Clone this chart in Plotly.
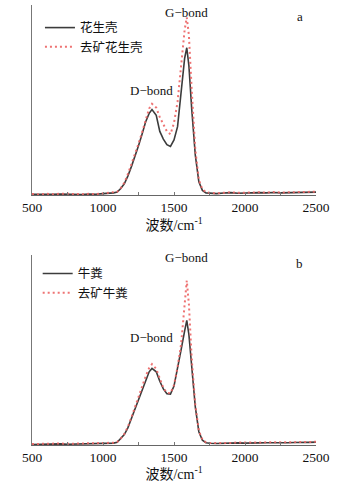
import plotly.graph_objects as go

WAVENUMBER = [500, 550, 600, 650, 700, 750, 800, 850, 900, 950, 1000, 1050,
              1075, 1100, 1125, 1150, 1175, 1200, 1225, 1250, 1275, 1300, 1325,
              1345,
              1375, 1400, 1425, 1450, 1475, 1500, 1525, 1550, 1575,
              1590, 1605,
              1625, 1650, 1675, 1700, 1725, 1750,
              1800, 1850, 1900, 1950, 2000, 2050, 2100, 2150, 2200, 2250, 2300, 2350, 2400, 2450, 2500]

PEANUT = [0.004, 0.003, 0.005, 0.004, 0.006, 0.004, 0.005, 0.003, 0.006, 0.005, 0.008, 0.010,
          0.012, 0.016, 0.035, 0.06, 0.10, 0.15, 0.20, 0.26, 0.32, 0.385, 0.43,
          0.45,
          0.42, 0.335, 0.295, 0.265, 0.256, 0.29, 0.36, 0.54, 0.72,
          0.775, 0.68,
          0.45, 0.21, 0.07, 0.025, 0.012, 0.010,
          0.008, 0.011, 0.013, 0.010, 0.012, 0.011, 0.013, 0.012, 0.014, 0.012, 0.013, 0.011, 0.013, 0.014, 0.016]

PEANUT_DEMIN = [0.006, 0.004, 0.007, 0.005, 0.008, 0.006, 0.007, 0.005, 0.007, 0.006, 0.009, 0.012,
                0.014, 0.018, 0.037, 0.065, 0.11, 0.16, 0.21, 0.27, 0.33, 0.40, 0.455,
                0.48,
                0.46, 0.41, 0.37, 0.335, 0.32, 0.38, 0.49, 0.68, 0.87,
                0.935, 0.84,
                0.55, 0.24, 0.08, 0.03, 0.016, 0.012,
                0.010, 0.013, 0.015, 0.012, 0.014, 0.013, 0.015, 0.014, 0.016, 0.014, 0.015, 0.013, 0.015, 0.016, 0.018]

MANURE = [0.003, 0.004, 0.003, 0.005, 0.006, 0.004, 0.005, 0.004, 0.006, 0.005, 0.007, 0.009,
          0.010, 0.014, 0.032, 0.055, 0.09, 0.14, 0.19, 0.245, 0.295, 0.345, 0.385,
          0.403,
          0.385, 0.335, 0.295, 0.27, 0.268, 0.31, 0.40, 0.50, 0.60,
          0.655, 0.58,
          0.40, 0.20, 0.07, 0.025, 0.012, 0.009,
          0.008, 0.010, 0.009, 0.011, 0.010, 0.012, 0.011, 0.012, 0.011, 0.013, 0.012, 0.013, 0.012, 0.014, 0.015]

MANURE_DEMIN = [0.005, 0.006, 0.005, 0.007, 0.008, 0.006, 0.007, 0.006, 0.008, 0.007, 0.009, 0.011,
                0.012, 0.016, 0.034, 0.058, 0.095, 0.145, 0.20, 0.255, 0.305, 0.36, 0.405,
                0.425,
                0.40, 0.345, 0.30, 0.275, 0.272, 0.315, 0.41, 0.53, 0.76,
                0.865, 0.74,
                0.45, 0.21, 0.075, 0.028, 0.014, 0.011,
                0.010, 0.012, 0.011, 0.013, 0.012, 0.014, 0.013, 0.014, 0.013, 0.015, 0.014, 0.015, 0.014, 0.016, 0.017]

X_TICKS = [500, 1000, 1500, 2000, 2500]

BLACK = "#3c3c3c"
RED = "rgba(236,100,100,0.9)"
FONT = "Liberation Serif, Times New Roman, Noto Sans CJK SC, serif"

fig = go.Figure()
fig.add_trace(go.Scatter(x=WAVENUMBER, y=PEANUT, name="花生壳", mode="lines",
                         line=dict(color=BLACK, width=1.6), xaxis="x", yaxis="y", legend="legend"))
fig.add_trace(go.Scatter(x=WAVENUMBER, y=PEANUT_DEMIN, name="去矿花生壳", mode="lines",
                         line=dict(color=RED, width=2, dash="2px,3px"), xaxis="x", yaxis="y", legend="legend"))
fig.add_trace(go.Scatter(x=WAVENUMBER, y=MANURE, name="牛粪", mode="lines",
                         line=dict(color=BLACK, width=1.6), xaxis="x2", yaxis="y2", legend="legend2"))
fig.add_trace(go.Scatter(x=WAVENUMBER, y=MANURE_DEMIN, name="去矿牛粪", mode="lines",
                         line=dict(color=RED, width=2, dash="2px,3px"), xaxis="x2", yaxis="y2", legend="legend2"))

xax = dict(range=[500, 2500], tickvals=X_TICKS, ticks="inside", ticklen=3, tickcolor="#777",
           minor=dict(dtick=250, ticks="inside", ticklen=3, tickcolor="#777"),
           showline=True, linecolor="#666", linewidth=1, showgrid=False, zeroline=False,
           tickfont=dict(family=FONT, size=13.5, color="#111"),
           title=dict(text="波数/cm<sup>-1</sup>", font=dict(family=FONT, size=14, color="#111"), standoff=2))
yax = dict(range=[0, 1], showticklabels=False, ticks="", showline=True, linecolor="#777", linewidth=1,
           showgrid=False, zeroline=False)

top_dom = [(447 - 196) / 442, 1.0]
bot_dom = [0.0, (447 - 256) / 442]

fig.update_layout(
    width=350, height=482,
    margin=dict(l=32, r=34, t=5, b=35),
    paper_bgcolor="white", plot_bgcolor="white",
    font=dict(family=FONT, color="#111"),
    xaxis=dict(xax, anchor="y"),
    yaxis=dict(yax, domain=top_dom, anchor="x"),
    xaxis2=dict(xax, anchor="y2"),
    yaxis2=dict(yax, domain=bot_dom, anchor="x2"),
    legend=dict(x=0.028, y=(447 - 13) / 442, xanchor="left", yanchor="top", bgcolor="rgba(0,0,0,0)",
                font=dict(family=FONT, size=12.5, color="#111"), itemwidth=30, tracegroupgap=0),
    legend2=dict(x=0.02, y=(447 - 260) / 442, xanchor="left", yanchor="top", bgcolor="rgba(0,0,0,0)",
                 font=dict(family=FONT, size=12.5, color="#111"), itemwidth=30, tracegroupgap=0),
    showlegend=True,
)

ann_font = dict(family=FONT, size=13, color="#111")
for xref, yref, items in [
    ("x", "y", [("G−bond", 1585, 0.963), ("D−bond", 1345, 0.55), ("a", 2387, 0.937)]),
    ("x2", "y2", [("G−bond", 1585, 0.984), ("D−bond", 1345, 0.565), ("b", 2387, 0.953)]),
]:
    for text, ax_, ay_ in items:
        fig.add_annotation(x=ax_, y=ay_, xref=xref, yref=yref, text=text, showarrow=False,
                           font=ann_font, xanchor="center", yanchor="middle")

fig.write_html("out.html")
